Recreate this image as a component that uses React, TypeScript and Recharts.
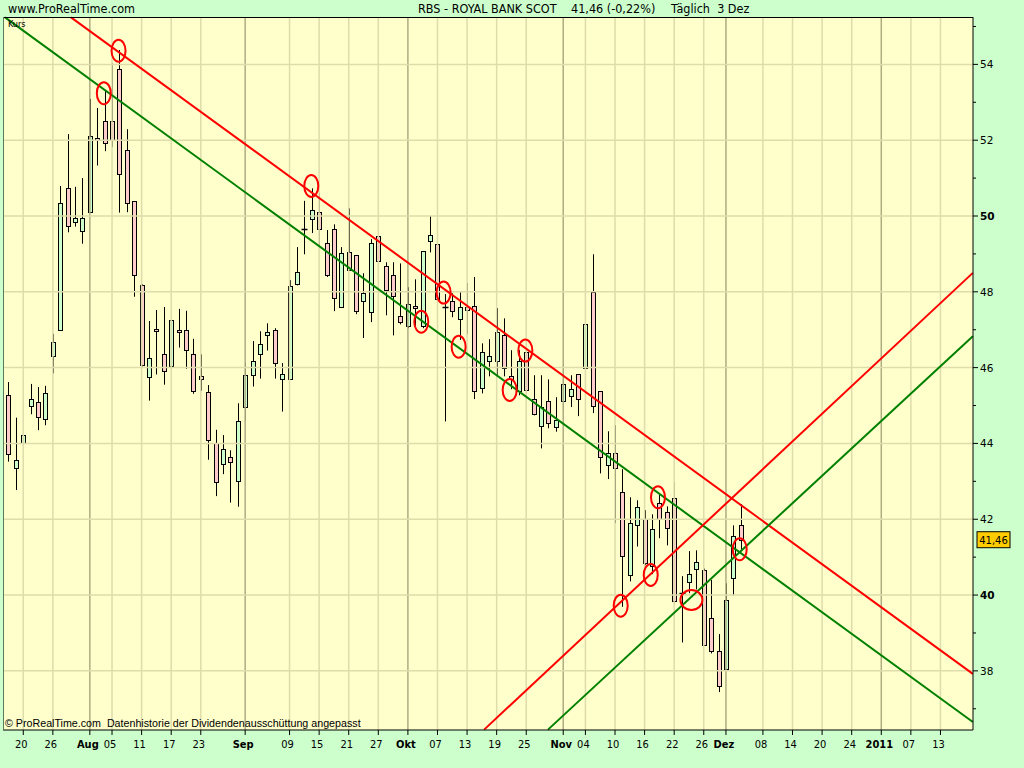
import React from 'react';
import {
  ComposedChart,
  Bar,
  Scatter,
  XAxis,
  YAxis,
  CartesianGrid,
  ReferenceLine
} from 'recharts';

// daily candles, trading-day index 0 = 16 Jul 2010 ... 99 = 3 Dez 2010
const opens = [
  45.27, 43.36, 44.0, 44.98, 45.09, 44.64, 46.3, 46.99, 50.73, 49.84,
  49.6, 50.1, 52.05, 52.5, 52.5, 53.89, 51.74, 50.39, 48.17, 45.75,
  47.01, 46.35, 46.03, 46.99, 46.99, 46.35, 45.77, 45.35, 44.0, 43.45,
  43.64, 43.0, 44.97, 45.8, 46.35, 46.85, 46.99, 45.69, 45.69, 48.2,
  49.65, 49.92, 50.1, 49.28, 49.65, 47.61, 49.04, 48.97, 47.75, 47.46,
  49.47, 48.68, 48.44, 47.36, 47.09, 47.62, 47.09, 49.34, 49.26, 47.61,
  47.75, 47.28, 47.59, 47.62, 45.46, 46.17, 46.17, 46.85, 45.77, 45.38,
  46.41, 45.17, 44.45, 45.11, 44.43, 45.11, 45.25, 45.83, 45.98, 47.99,
  45.38, 43.42, 43.74, 42.71, 40.52, 41.84, 42.0, 40.76, 42.42, 42.18,
  42.55, 40.05, 40.34, 40.68, 40.65, 39.39, 38.52, 38.04, 40.44, 41.84
];
const highs = [
  45.62, 44.68, 44.22, 45.57, 45.49, 45.52, 46.89, 50.79, 52.16, 50.77,
  51.0, 53.09, 52.85, 53.3, 54.03, 54.38, 52.29, 50.39, 48.2, 47.23,
  47.52, 47.6, 47.25, 47.55, 47.5, 46.76, 46.35, 45.54, 44.36, 44.22,
  43.82, 45.06, 46.13, 46.7, 46.96, 47.17, 47.04, 46.12, 48.31, 49.18,
  50.4, 50.73, 50.6, 49.63, 49.78, 49.18, 50.2, 48.97, 48.49, 49.39,
  49.84, 48.78, 48.78, 48.75, 48.12, 48.33, 49.07, 50.0, 49.73, 47.94,
  47.96, 47.99, 48.23, 48.39, 46.64, 46.75, 47.57, 47.3, 46.46, 46.46,
  46.51, 45.8, 45.8, 45.69, 45.22, 46.09, 45.8, 45.83, 47.33, 48.99,
  45.38, 44.32, 44.48, 43.32, 42.58, 42.5, 42.24, 42.13, 42.66, 42.34,
  42.98, 40.5, 41.16, 41.18, 40.7, 40.4, 38.97, 40.31, 41.84, 42.4
];
const lows = [
  43.52, 42.77, 42.77, 44.77, 44.35, 44.48, 45.85, 46.99, 49.57, 49.72,
  49.27, 50.1, 51.33, 51.71, 51.82, 50.09, 50.1, 47.87, 46.03, 45.13,
  45.82, 45.55, 45.98, 46.53, 45.97, 45.31, 45.39, 43.57, 42.61, 43.19,
  42.44, 42.33, 44.6, 45.5, 45.71, 46.45, 45.71, 44.84, 45.69, 48.17,
  48.99, 49.55, 49.18, 48.39, 47.49, 47.59, 48.57, 47.41, 46.78, 47.2,
  48.54, 47.38, 46.85, 47.14, 47.04, 47.07, 47.04, 49.04, 47.59, 44.58,
  47.33, 46.73, 46.88, 45.17, 45.32, 45.77, 45.77, 45.77, 45.43, 45.27,
  45.32, 44.74, 43.87, 44.4, 44.31, 44.85, 44.96, 44.72, 45.98, 44.8,
  43.21, 43.06, 41.9, 39.69, 40.36, 41.28, 40.79, 40.55, 41.5, 41.31,
  39.78, 38.75, 40.05, 40.15, 38.68, 38.46, 37.44, 38.04, 39.99, 41.2
];
const closes = [
  43.72, 43.56, 44.22, 45.17, 44.69, 45.32, 46.67, 50.34, 49.73, 49.94,
  49.94, 52.11, 52.0, 51.92, 52.0, 51.1, 50.34, 48.44, 46.06, 46.25,
  46.96, 45.9, 47.25, 46.93, 46.46, 45.39, 45.69, 44.08, 42.98, 43.85,
  43.5, 44.59, 45.8, 46.17, 46.62, 46.93, 46.12, 45.83, 48.15, 48.52,
  49.65, 50.15, 49.65, 48.44, 47.83, 49.02, 48.57, 47.49, 47.96, 49.28,
  48.81, 48.04, 47.88, 47.2, 47.67, 47.57, 49.07, 49.5, 47.8, 47.61,
  47.49, 47.59, 47.51, 45.38, 46.41, 46.3, 46.93, 45.98, 45.69, 46.17,
  45.4, 44.77, 44.96, 44.53, 44.61, 45.56, 45.43, 45.17, 47.14, 44.98,
  43.64, 43.74, 43.35, 41.02, 41.89, 42.32, 40.84, 41.74, 42.0, 41.76,
  39.84, 40.05, 40.55, 40.87, 38.68, 38.52, 37.59, 39.86, 41.55, 41.46
];

// x axis labels (trading-day index -> text)
const tickIdx = [
  2, 6, 11, 14, 18, 22, 26, 32, 38, 42, 46, 50, 54, 58, 62, 66, 70,
  75, 78, 82, 86, 90, 94, 97, 102, 106, 110, 114, 118, 122, 126
];
const tickLabels = [
  '20', '26', 'Aug', '05', '11', '17', '23', 'Sep', '09', '15', '21', '27', 'Okt', '07', '13', '19', '25',
  'Nov', '04', '10', '16', '22', '26', 'Dez', '08', '14', '20', '24', '2011', '07', '13'
];
const monthIdx = [11, 32, 54, 75, 97, 118];

const priceTicks = [37, 38, 39, 40, 41, 42, 43, 44, 45, 46, 47, 48, 49, 50, 51, 52, 53, 54, 55];
const gridPrices = [38, 40, 42, 44, 46, 48, 50, 52, 54];
const boldPrices = [40, 50];
const lastPrice = 41.46;

// trend lines: [index, price] end points
const trendLines = [
  { color: '#ff0000', x1: 8.45, y1: 55.24, x2: 130.38, y2: 37.92 },
  { color: '#008000', x1: -0.47, y1: 55.24, x2: 130.38, y2: 36.65 },
  { color: '#ff0000', x1: 64.31, y1: 36.45, x2: 130.38, y2: 48.5 },
  { color: '#008000', x1: 72.94, y1: 36.45, x2: 130.38, y2: 46.83 }
];

// red touch circles
const markIdx = [12.89, 14.88, 40.94, 58.83, 55.81, 60.86, 67.76, 69.88, 87.81, 86.83, 82.77, 92.33, 98.86];
const markPrice = [53.24, 54.36, 50.79, 47.98, 47.21, 46.55, 45.41, 46.45, 42.58, 40.53, 39.72, 39.87, 41.21];
const markWide = [0, 0, 0, 0, 0, 0, 0, 0, 0, 0, 0, 1, 0];

const candles = opens.map((o, i) => ({ i, o, h: highs[i], l: lows[i], c: closes[i] }));
const marks = markIdx.map((i, k) => ({ i, p: markPrice[k], w: markWide[k] }));

const narrow = '"Liberation Sans Narrow", "DejaVu Sans Condensed", "Liberation Sans", sans-serif';

const Candle = (props: any) => {
  const { x, y, width, height, payload } = props;
  const { o, h, l, c } = payload;
  const cx = Math.round(x + width / 2) + 0.5;
  const py = (v: number) => y + ((h - v) / (h - l)) * height;
  const top = Math.round(py(Math.max(o, c))) + 0.5;
  const bot = Math.round(py(Math.min(o, c))) + 0.5;
  const up = c >= o;
  return (
    <g>
      <line x1={cx} x2={cx} y1={y} y2={y + height} stroke="#000" strokeWidth={1} />
      {bot - top < 1 ? (
        <line x1={cx - 3} x2={cx + 3} y1={top} y2={top} stroke="#000" strokeWidth={1.5} />
      ) : (
        <rect
          x={cx - 2}
          y={top}
          width={4}
          height={bot - top}
          fill={up ? '#ccffcc' : '#ffcccc'}
          stroke="#000"
          strokeWidth={1}
        />
      )}
    </g>
  );
};

const DateTick = (props: any) => {
  const { x, y, payload } = props;
  const k = tickIdx.indexOf(payload.value);
  const label = tickLabels[k];
  const bold = monthIdx.includes(payload.value);
  return (
    <g>
      <line x1={x} x2={x} y1={y} y2={y + 5} stroke="#000" />
      <text
        x={x - 2}
        y={y + 18}
        textAnchor="middle"
        fontFamily={narrow}
        fontSize={11}
        fontWeight={bold ? 'bold' : 'normal'}
        fill="#000"
      >
        {label}
      </text>
    </g>
  );
};

const PriceTick = (props: any) => {
  const { x, y, payload } = props;
  const v = payload.value;
  const even = v % 2 === 0;
  return (
    <g>
      <line x1={x} x2={x + (even ? 5 : 3)} y1={y} y2={y} stroke="#000" />
      {even && (
        <text
          x={x + 7}
          y={y + 4}
          textAnchor="start"
          fontFamily='"DejaVu Sans", Verdana, sans-serif'
          fontSize={10.5}
          fontWeight={boldPrices.includes(v) ? 'bold' : 'normal'}
          fill="#000"
        >
          {v}
        </text>
      )}
    </g>
  );
};

const PriceTag = (props: any) => {
  const vb = props.viewBox;
  const x = vb.x + vb.width + 4;
  const y = vb.y;
  return (
    <g>
      <rect x={x} y={y - 8} width={33} height={16} fill="#ffcc00" stroke="#000" strokeWidth={1} />
      <text x={x + 16.5} y={y + 4} textAnchor="middle" fontFamily='"DejaVu Sans", sans-serif' fontSize={10} fill="#000">
        {lastPrice.toFixed(2).replace('.', ',')}
      </text>
    </g>
  );
};

const Ring = (props: any) => {
  const { cx, cy, payload } = props;
  return (
    <ellipse
      cx={cx}
      cy={cy}
      rx={payload.w ? 11 : 7}
      ry={payload.w ? 10 : 11}
      fill="none"
      stroke="#ff0000"
      strokeWidth={2}
    />
  );
};

export default function App() {
  return (
    <div
      style={{
        position: 'absolute',
        left: 0,
        top: 0,
        width: 1024,
        height: 768,
        background: '#ccffcc',
        overflow: 'hidden'
      }}
    >
      <ComposedChart
        width={1024}
        height={768}
        data={candles}
        margin={{ top: 17, right: 0, bottom: 0, left: 3 }}
      >
        <CartesianGrid fill="#ffffcc" horizontal={false} vertical={false} />
        {tickIdx.map((t) => (
          <ReferenceLine
            key={'v' + t}
            x={t}
            stroke={monthIdx.includes(t) ? '#aeac80' : '#dddcaa'}
            strokeWidth={1.5}
            ifOverflow="visible"
          />
        ))}
        {gridPrices.map((p) => (
          <ReferenceLine key={'h' + p} y={p} stroke="#dddcaa" strokeWidth={1.5} ifOverflow="visible" />
        ))}
        <XAxis
          type="number"
          dataKey="i"
          domain={[-0.74, 130.4]}
          allowDataOverflow
          ticks={tickIdx}
          interval={0}
          height={38}
          tickSize={0}
          tickMargin={0}
          tickLine={false}
          axisLine={{ stroke: '#000' }}
          tick={<DateTick />}
        />
        <YAxis
          orientation="right"
          domain={[36.44, 55.25]}
          allowDataOverflow
          ticks={priceTicks}
          interval={0}
          width={51}
          tickSize={0}
          tickMargin={0}
          tickLine={false}
          axisLine={{ stroke: '#000' }}
          tick={<PriceTick />}
        />
        <Bar
          dataKey={(d: any) => [d.l, d.h]}
          barSize={5}
          shape={(p: any) => <Candle {...p} />}
          isAnimationActive={false}
        />
        {trendLines.map((t, k) => (
          <ReferenceLine
            key={'t' + k}
            segment={[{ x: t.x1, y: t.y1 }, { x: t.x2, y: t.y2 }]}
            stroke={t.color}
            strokeWidth={2}
            ifOverflow="visible"
          />
        ))}
        <ReferenceLine y={lastPrice} stroke="none" ifOverflow="visible" label={(p: any) => <PriceTag {...p} />} />
        <Scatter data={marks} dataKey="p" shape={(p: any) => <Ring {...p} />} isAnimationActive={false} />
      </ComposedChart>
      <div style={{ position: 'absolute', left: 3, top: 17, width: 970, height: 1, background: '#000' }} />
      <div style={{ position: 'absolute', left: 3, top: 17, width: 1, height: 713, background: '#5c7a5c' }} />
      <div style={{ position: 'absolute', left: 8, top: 1, fontFamily: narrow, fontSize: 12.5, lineHeight: '16px' }}>
        www.ProRealTime.com
      </div>
      <div style={{ position: 'absolute', left: 418, top: 1, fontFamily: narrow, fontSize: 12.5, lineHeight: '16px', whiteSpace: 'pre' }}>
        RBS - ROYAL BANK SCOT
      </div>
      <div style={{ position: 'absolute', left: 571, top: 1, fontFamily: narrow, fontSize: 12.5, lineHeight: '16px', whiteSpace: 'pre' }}>
        41,46 (-0,22%)
      </div>
      <div style={{ position: 'absolute', left: 671, top: 1, fontFamily: narrow, fontSize: 12.5, lineHeight: '16px', whiteSpace: 'pre' }}>
        Täglich  3 Dez
      </div>
      <div style={{ position: 'absolute', left: 8, top: 19, fontFamily: narrow, fontSize: 9, lineHeight: '11px', color: '#000' }}>
        Kurs
      </div>
      <div style={{ position: 'absolute', left: 5, top: 717, fontFamily: '"Liberation Sans", Arial, sans-serif', fontSize: 10.7, lineHeight: '13px', whiteSpace: 'pre' }}>
        © ProRealTime.com  Datenhistorie der Dividendenausschüttung angepasst
      </div>
    </div>
  );
}
